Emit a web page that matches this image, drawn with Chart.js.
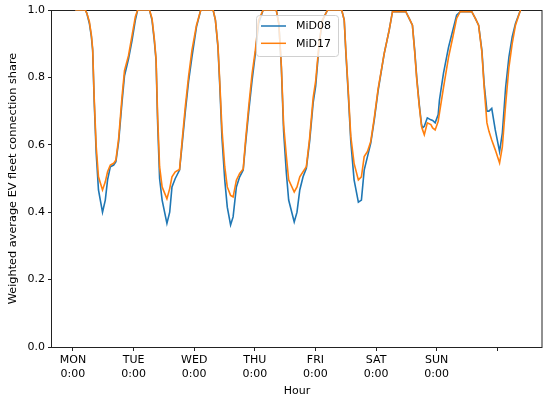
<!DOCTYPE html>
<html>
<head>
<meta charset="utf-8">
<script src="https://cdn.jsdelivr.net/npm/chart.js@4"></script>
<style>
  html, body { margin: 0; padding: 0; background: #fff; }
  #wrap { width: 550px; height: 399px; }
</style>
</head>
<body>
<div id="wrap"><canvas id="connChart" width="550" height="399"></canvas></div>
<script>
// hour of the week (x) and weighted average connection share for each survey
var hours = [0.9, 4.9, 5.5, 6.5, 7.3, 7.8, 8.4, 9.2, 10.1, 11.7, 12.8, 13.7, 14.8, 16.1, 17.0, 18.1, 19.4, 20.4, 22.0, 23.4, 24.7, 25.6,
  30.3, 31.3, 32.2, 32.9, 33.5, 34.3, 35.3, 37.2, 38.3, 39.2, 40.5, 42.2, 43.2, 44.5, 45.8, 47.1, 48.9, 50.6,
  55.5, 56.4, 57.4, 58.1, 59.0, 60.1, 61.1, 62.4, 63.4, 64.7, 66.0, 67.4, 68.3, 69.6, 70.9, 72.2, 73.5, 75.3,
  80.5, 81.5, 82.5, 83.4, 84.5, 85.4, 87.6, 88.7, 89.8, 91.1, 92.4, 93.7, 95.1, 96.1, 97.5, 98.8, 100.8,
  106.4, 107.4, 108.0, 109.0, 110.0, 111.3, 113.0, 114.2, 115.3, 116.6, 117.9, 119.3, 120.8, 123.2, 125.2, 126.5,
  131.8, 133.1, 134.4, 135.3, 136.1, 137.1, 138.0, 138.4, 139.1, 140.3, 141.7, 142.4, 143.4, 144.6, 145.1, 146.7, 148.7, 150.4, 151.9, 153.3,
  157.9, 159.3, 160.6, 161.9, 162.8, 163.9, 164.7, 165.8, 167.2, 168.9, 170.0, 171.3, 172.6, 173.9, 175.2, 177.2];

var mid08 = [1.0, 1.0, 0.99, 0.96, 0.92, 0.88, 0.73, 0.575, 0.466, 0.40, 0.436, 0.496, 0.535, 0.54, 0.55, 0.61, 0.725, 0.805, 0.855, 0.91, 0.97, 1.0,
  1.0, 0.97, 0.91, 0.85, 0.67, 0.50, 0.436, 0.367, 0.40, 0.475, 0.50, 0.525, 0.60, 0.70, 0.79, 0.86, 0.95, 1.0,
  1.0, 0.97, 0.89, 0.78, 0.62, 0.495, 0.415, 0.362, 0.386, 0.475, 0.505, 0.525, 0.60, 0.70, 0.79, 0.87, 0.96, 1.0,
  1.0, 0.96, 0.83, 0.64, 0.515, 0.436, 0.371, 0.40, 0.466, 0.505, 0.53, 0.61, 0.725, 0.775, 0.90, 0.97, 1.0,
  1.0, 0.97, 0.88, 0.75, 0.61, 0.496, 0.43, 0.436, 0.525, 0.565, 0.605, 0.674, 0.76, 0.87, 0.94, 0.995,
  0.995, 0.975, 0.955, 0.88, 0.80, 0.72, 0.66, 0.65, 0.655, 0.68, 0.674, 0.672, 0.665, 0.69, 0.733, 0.813, 0.89, 0.94, 0.985, 0.995,
  0.995, 0.975, 0.955, 0.88, 0.78, 0.70, 0.70, 0.708, 0.644, 0.58, 0.635, 0.77, 0.86, 0.92, 0.96, 1.0];

var mid17 = [1.0, 1.0, 0.99, 0.965, 0.925, 0.885, 0.74, 0.595, 0.505, 0.466, 0.49, 0.52, 0.54, 0.545, 0.555, 0.62, 0.74, 0.82, 0.865, 0.925, 0.98, 1.0,
  1.0, 0.975, 0.915, 0.855, 0.69, 0.535, 0.475, 0.44, 0.47, 0.505, 0.52, 0.527, 0.61, 0.715, 0.805, 0.88, 0.955, 1.0,
  1.0, 0.97, 0.895, 0.79, 0.645, 0.535, 0.475, 0.45, 0.445, 0.495, 0.515, 0.528, 0.61, 0.715, 0.81, 0.88, 0.97, 1.0,
  1.0, 0.96, 0.835, 0.66, 0.565, 0.496, 0.46, 0.475, 0.505, 0.52, 0.535, 0.62, 0.74, 0.79, 0.905, 0.97, 1.0,
  1.0, 0.97, 0.885, 0.76, 0.625, 0.545, 0.496, 0.505, 0.565, 0.58, 0.61, 0.68, 0.765, 0.87, 0.94, 0.995,
  0.995, 0.975, 0.955, 0.875, 0.795, 0.715, 0.655, 0.645, 0.63, 0.665, 0.66, 0.65, 0.644, 0.67, 0.694, 0.77, 0.86, 0.92, 0.975, 0.995,
  0.995, 0.975, 0.955, 0.875, 0.77, 0.665, 0.64, 0.614, 0.585, 0.546, 0.594, 0.72, 0.83, 0.90, 0.955, 1.0];

var dayTicks = [0, 24, 48, 72, 96, 120, 144, 168];
var dayLabels = [['MON', '0:00'], ['TUE', '0:00'], ['WED', '0:00'], ['THU', '0:00'], ['FRI', '0:00'], ['SAT', '0:00'], ['SUN', '0:00'], ''];

var blue = '#1f77b4';
var orange = '#ff7f0e';
var font = 'DejaVu Sans';

function toPoints(vals) {
  return vals.map(function (v, i) { return { x: hours[i], y: v }; });
}

// box round the plot (under the lines) and the matplotlib style legend (over them)
var framePlugin = {
  id: 'frame',
  beforeDatasetsDraw: function (chart) {
    var ctx = chart.ctx;
    var a = chart.chartArea;
    ctx.save();
    ctx.strokeStyle = '#222';
    ctx.lineWidth = 1;
    ctx.strokeRect(Math.round(a.left) - 0.5, Math.round(a.top) + 0.5, Math.round(a.right - a.left) + 0.5, Math.round(a.bottom - a.top));
    ctx.restore();
  },
  afterDatasetsDraw: function (chart) {
    var ctx = chart.ctx;
    ctx.save();
    var bx = 256.5, by = 15.5, bw = 82, bh = 41;
    ctx.beginPath();
    ctx.roundRect(bx, by, bw, bh, 3);
    ctx.fillStyle = 'rgba(255,255,255,0.8)';
    ctx.fill();
    ctx.strokeStyle = '#d0d0d0';
    ctx.lineWidth = 1;
    ctx.stroke();

    ctx.font = '11px "' + font + '"';
    ctx.textBaseline = 'middle';
    var rows = [chart.data.datasets[0], chart.data.datasets[1]];
    rows.forEach(function (ds, i) {
      var y = 26 + i * 17.3;
      ctx.beginPath();
      ctx.moveTo(261, y);
      ctx.lineTo(286, y);
      ctx.strokeStyle = ds.borderColor;
      ctx.lineWidth = 1.5;
      ctx.stroke();
      ctx.fillStyle = '#000';
      ctx.fillText(ds.label, 296, y + 0.5);
    });
    ctx.restore();
  }
};

var ctx = document.getElementById('connChart').getContext('2d');
var chart = new Chart(ctx, {
  type: 'line',
  data: {
    datasets: [{
      label: 'MiD08',
      data: toPoints(mid08),
      borderColor: blue,
      backgroundColor: blue,
      borderWidth: 1.6,
      pointRadius: 0,
      tension: 0,
      order: 1
    }, {
      label: 'MiD17',
      data: toPoints(mid17),
      borderColor: orange,
      backgroundColor: orange,
      borderWidth: 1.6,
      pointRadius: 0,
      tension: 0,
      order: 0
    }]
  },
  options: {
    responsive: false,
    animation: false,
    devicePixelRatio: 1,
    layout: { padding: { top: 10, right: 8, left: 0, bottom: 0 } },
    plugins: {
      legend: { display: false },
      tooltip: { enabled: false }
    },
    scales: {
      x: {
        type: 'linear',
        min: -8.3,
        max: 185.7,
        afterBuildTicks: function (scale) {
          scale.ticks = dayTicks.map(function (v) { return { value: v }; });
        },
        afterFit: function (scale) { scale.height = 52; },
        ticks: {
          autoSkip: false,
          maxRotation: 0,
          padding: 3,
          color: '#000',
          font: { family: font, size: 11, lineHeight: 1.2 },
          callback: function (v) {
            var i = dayTicks.indexOf(v);
            return i >= 0 ? dayLabels[i] : '';
          }
        },
        grid: { display: true, drawOnChartArea: false, drawTicks: true, tickLength: 4, color: '#222' },
        border: { display: false },
        title: {
          display: true,
          text: 'Hour',
          color: '#000',
          font: { family: font, size: 11 },
          padding: { top: 0, bottom: 1 }
        }
      },
      y: {
        min: 0,
        max: 1,
        afterFit: function (scale) { scale.width = 52; },
        ticks: {
          stepSize: 0.2,
          padding: 3,
          color: '#000',
          font: { family: font, size: 11 },
          callback: function (v) { return v.toFixed(1); }
        },
        grid: { display: true, drawOnChartArea: false, drawTicks: true, tickLength: 4, color: '#222' },
        border: { display: false },
        title: {
          display: true,
          text: 'Weighted average EV fleet connection share',
          color: '#000',
          font: { family: font, size: 11.3 },
          padding: { top: 6, bottom: 0 }
        }
      }
    }
  },
  plugins: [framePlugin]
});
</script>
</body>
</html>
